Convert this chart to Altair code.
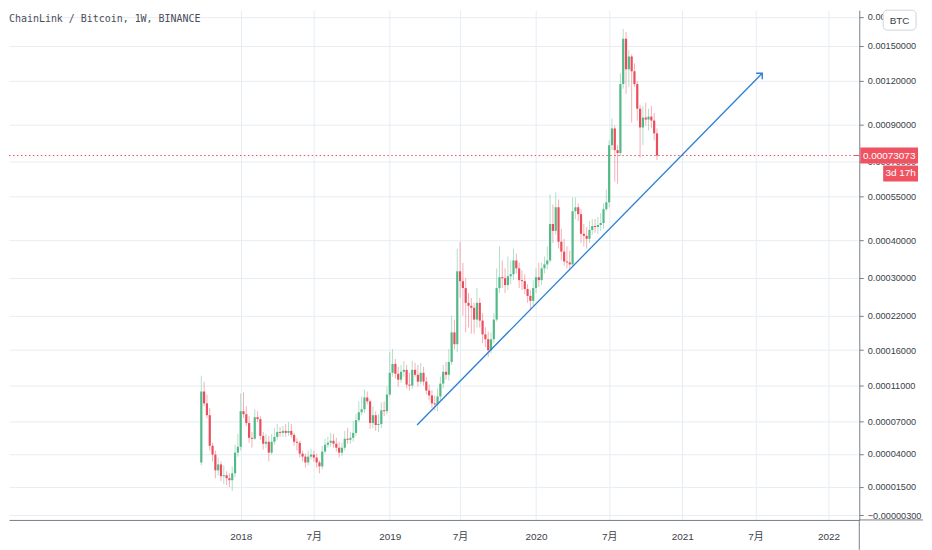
import altair as alt
import pandas as pd

# ---------------- data (prices in satoshi = 1e-8 BTC) ----------------
TITLE = "ChainLink / Bitcoin, 1W, BINANCE"
first_week = "2017-09-25"
first_open = 3297

closes = [
    10308, 8922, 7632, 4690, 3933, 2685, 3141, 2246, 2318, 2103, 1961, 2464, 4098, 4604,
    8053, 7737, 6823, 5404, 5314, 7425, 7222, 5586, 4870, 5046, 4098, 5046, 5495, 5957,
    5864, 6052, 5864, 6052, 5678, 5046, 4957, 4015, 3770, 3297, 3770, 3933, 3689, 3297,
    2987, 4191, 4780, 4957, 5135, 4870, 4519, 4098, 4519, 5314, 5225, 5404, 5864, 7121,
    7947, 8268, 9603, 9146, 6823, 7632, 6626, 6724, 8161, 8053, 9952, 12710, 13945, 12577,
    11794, 12844, 13114, 11162, 11038, 13114, 12444, 11539, 12710, 11539, 10428, 9835, 8922, 8811,
    9719, 11287, 12844, 12444, 14228, 18907, 16936, 31626, 29248, 27664, 24483, 23880, 23484, 21201,
    24483, 21018, 18569, 17741, 16000, 17741, 21201, 27664, 30182, 29946, 28335, 30419, 30897, 34408,
    32366, 29479, 29248, 27443, 25933, 24891, 27664, 30182, 29479, 32366, 33375, 34408, 45204, 42977,
    51010, 39659, 36822, 34148, 33889, 33375, 49590, 51010, 48548, 42051, 41441, 40542, 43290, 44559,
    44239, 44881, 45530, 50296, 52833, 78379, 87674, 75818, 74317, 117274, 156822, 129016, 140060, 127390,
    117274, 99869, 88251, 94204, 92985, 94818, 92381, 84844, 73073,
]
highs = [
    12313, 11539, 9952, 8376, 4957, 4271, 3689, 3376, 3064, 2611, 2464, 2987, 4780, 5771,
    10070, 10200, 8591, 7530, 5957, 8268, 8053, 7530, 5957, 5771, 5586, 5771, 6330, 6724,
    6430, 6530, 6724, 6920, 6724, 5864, 5404, 5135, 4271, 4015, 4271, 4430, 4271, 4015,
    3460, 4690, 5314, 5495, 5864, 5771, 5404, 5046, 4957, 6052, 6330, 5957, 7020, 7737,
    9146, 9719, 10549, 10308, 9380, 8591, 8053, 7737, 9030, 9146, 10914, 15697, 16150, 14660,
    13530, 13800, 14380, 13800, 12710, 14380, 14090, 13800, 14090, 13530, 12180, 11160, 10430, 9835,
    10670, 12180, 13800, 14228, 16150, 21943, 21201, 37660, 39659, 33760, 29940, 26572, 25510, 24483,
    27664, 25510, 22440, 19770, 19040, 18907, 22440, 32366, 38300, 34408, 32366, 35470, 34408, 37660,
    36300, 33890, 31800, 30897, 28560, 27220, 29480, 32366, 33760, 33890, 35470, 38300, 55862, 52000,
    56700, 53950, 43600, 40542, 38300, 37100, 54711, 54711, 52400, 50300, 45204, 44200, 46200, 46850,
    46850, 47500, 48900, 52400, 57830, 81000, 93592, 89400, 78379, 125781, 166933, 163840, 146000, 142000,
    134000, 119540, 102500, 101700, 104000, 99870, 101700, 97200, 87700,
]
lows = [
    3064, 8591, 7300, 4271, 3376, 2103, 2318, 1891, 1683, 1620, 1479, 1212, 2175, 3770,
    4271, 7330, 6530, 4957, 4519, 5225, 6920, 5225, 4350, 4519, 3376, 3933, 4780, 5225,
    5495, 5495, 5495, 5586, 5404, 4690, 4271, 3689, 3376, 2900, 3064, 3530, 3376, 2900,
    2464, 2750, 4015, 4519, 4604, 4519, 4191, 3689, 3850, 4271, 4870, 4870, 5046, 5586,
    6920, 7632, 7842, 8811, 6241, 6330, 6052, 5957, 6330, 7530, 7737, 9719, 12180, 11930,
    10910, 11410, 12180, 10670, 10430, 10670, 12180, 10910, 11160, 11040, 9950, 9260, 8380, 8160,
    8053, 9260, 10670, 11790, 11670, 13800, 16150, 15697, 25510, 21943, 18907, 19770, 18690, 18690,
    19770, 19770, 17100, 16460, 14950, 15440, 17100, 20840, 26572, 27664, 26572, 27220, 28560, 29480,
    31080, 27664, 27220, 26350, 24483, 22950, 23880, 26572, 27900, 28330, 31080, 32100, 33890, 39300,
    41750, 37660, 34408, 33050, 32366, 32100, 33050, 46850, 46200, 39300, 38300, 37660, 39300, 41750,
    42400, 42051, 43000, 43600, 49590, 51000, 75820, 61093, 60200, 72900, 113800, 110000, 115160, 91150,
    115160, 92200, 72000, 78400, 89400, 86500, 87700, 81000, 70900,
]

x_tick_dates = ["2018-01-01", "2018-07-02", "2019-01-07", "2019-07-01", "2020-01-06",
                "2020-07-06", "2021-01-04", "2021-07-05", "2022-01-03"]
y_ticks = [0.0018, 0.0015, 0.0012, 0.0009, 0.0007, 0.00055, 0.0004, 0.0003, 0.00022,
           0.00016, 0.00011, 0.00007, 0.00004, 0.000015, -0.000003]

trend_dates = ["2019-03-16", "2021-07-22"]
trend_prices = [0.0000663, 0.001258]
countdown = "3d 17h"
currency = "BTC"

SAT = 1e-8

# ---------------- tables ----------------
dates = pd.date_range(first_week, periods=len(closes), freq="7D")
opens = [first_open] + closes[:-1]
candles = pd.DataFrame({
    "date": dates.strftime("%Y-%m-%d"),
    "open": [v * SAT for v in opens],
    "close": [v * SAT for v in closes],
    "high": [v * SAT for v in highs],
    "low": [v * SAT for v in lows],
})
last_price = closes[-1] * SAT
last_df = pd.DataFrame({"price": [last_price], "label": [f"{last_price:.8f}"], "cd": [countdown]})
trend_df = pd.DataFrame({"date": trend_dates, "price": trend_prices})
one = pd.DataFrame({"k": [0]})

# ---------------- layout / styling ----------------
W, H = 854, 512
UP, DOWN = "#53b987", "#eb4d5c"
RED = "#ef5361"
BLUE = "#2a7fd4"
GRID = "#e7edf3"
AXIS_C = "#7b7e88"
TXT = "#3a3e4a"
FONT = "'Liberation Sans', 'Noto Sans CJK JP', sans-serif"
MONO = "'DejaVu Sans Mono', monospace"

anchor = pd.Timestamp("2018-01-01")
ppd = 2.825 / 7.0
x0 = anchor - pd.Timedelta(days=232.7 / ppd)
x1 = anchor + pd.Timedelta(days=621.3 / ppd)
to_ms = lambda t: int(pd.Timestamp(t).value // 10**6)

x_scale = alt.Scale(type="utc", domain=[to_ms(x0), to_ms(x1)])
y_scale = alt.Scale(type="symlog", constant=0.0001, domain=[-0.0000060, 0.00187852], nice=False)

x_axis = alt.Axis(values=[to_ms(d) for d in x_tick_dates],
                  labelExpr="utcmonth(datum.value) == 0 ? utcFormat(datum.value, '%Y') : '7月'",
                  grid=True, gridColor=GRID, gridWidth=1, domainColor=AXIS_C, ticks=False,
                  labelPadding=12, labelFontSize=10, labelColor=TXT, labelFont=FONT,
                  labelAngle=0, title=None, labelFlush=False)
y_axis = alt.Axis(orient="right", values=y_ticks, format=".8f", grid=True, gridColor=GRID,
                  domainColor=AXIS_C, tickColor=AXIS_C, tickSize=4, labelPadding=4,
                  labelFontSize=9.2, labelColor=TXT, labelFont=FONT, labelOverlap=False,
                  labelFlush=False, title=None)


def X(field):
    return alt.X(field, scale=x_scale, axis=x_axis)


def Y(field):
    return alt.Y(field, scale=y_scale, axis=y_axis)


color_cond = alt.condition("datum.close >= datum.open", alt.value(UP), alt.value(DOWN))

wicks = alt.Chart(candles).mark_rule(strokeWidth=1, opacity=0.45).encode(
    x=X("date:T"), y=Y("low:Q"), y2="high:Q", color=color_cond)
bodies = alt.Chart(candles).mark_rule(strokeWidth=2.2).encode(
    x=X("date:T"), y=Y("open:Q"), y2="close:Q", color=color_cond)

price_line = alt.Chart(last_df).mark_rule(color=DOWN, strokeWidth=1, strokeDash=[1.5, 2.5]).encode(
    x=alt.value(0), x2=alt.value(W), y=Y("price:Q"))
price_tick = alt.Chart(last_df).mark_rule(color=RED, strokeWidth=1).encode(
    x=alt.value(W - 5), x2=alt.value(W), y=Y("price:Q"))

trend = alt.Chart(trend_df).mark_line(color=BLUE, strokeWidth=1.3).encode(
    x=X("date:T"), y=Y("price:Q"))
arrow = alt.Chart(trend_df.tail(1)).mark_point(
    shape="M-1,0L0,0L0,1", size=150, filled=False, strokeWidth=1.4, color=BLUE, opacity=1).encode(
    x=X("date:T"), y=Y("price:Q"))

title = alt.Chart(one).mark_text(align="left", baseline="middle", font=MONO, fontSize=10,
                                 color="#4a4e59").encode(
    x=alt.value(0), y=alt.value(9), text=alt.value(TITLE))

box1 = alt.Chart(last_df).mark_rect(color=RED, yOffset=-8, y2Offset=8).encode(
    x=alt.value(W + 1), x2=alt.value(W + 59), y=Y("price:Q"), y2="price:Q")
txt1 = alt.Chart(last_df).mark_text(color="white", font=FONT, fontSize=10, align="center",
                                    baseline="middle").encode(
    x=alt.value(W + 30), y=Y("price:Q"), text="label:N")
box2 = alt.Chart(last_df).mark_rect(color=RED, yOffset=10, y2Offset=26).encode(
    x=alt.value(W + 24), x2=alt.value(W + 59), y=Y("price:Q"), y2="price:Q")
txt2 = alt.Chart(last_df).mark_text(color="white", font=FONT, fontSize=10, align="center",
                                    baseline="middle", dy=18).encode(
    x=alt.value(W + 41.5), y=Y("price:Q"), text="cd:N")

btc_box = alt.Chart(one).mark_rect(fill="white", stroke="#cfd3dc", strokeWidth=1, cornerRadius=4).encode(
    x=alt.value(W + 24), x2=alt.value(W + 57), y=alt.value(0), y2=alt.value(20))
btc_txt = alt.Chart(one).mark_text(font=FONT, fontSize=10, color=TXT, align="center",
                                   baseline="middle").encode(
    x=alt.value(W + 40.5), y=alt.value(10.5), text=alt.value(currency))

vline_ext = alt.Chart(one).mark_rule(color=AXIS_C, strokeWidth=1).encode(
    x=alt.value(W), y=alt.value(H), y2=alt.value(H + 30))
hline_ext = alt.Chart(one).mark_rule(color=AXIS_C, strokeWidth=1).encode(
    x=alt.value(W), x2=alt.value(W + 64), y=alt.value(H))

chart = alt.layer(
    wicks, bodies, price_line, price_tick, trend, arrow, title,
    box1, txt1, box2, txt2, btc_box, btc_txt, vline_ext, hline_ext,
).properties(
    width=W, height=H, padding=0, background="white"
).configure_view(strokeWidth=0)

chart.save("out.html", embed_options={"renderer": "svg", "actions": False})
